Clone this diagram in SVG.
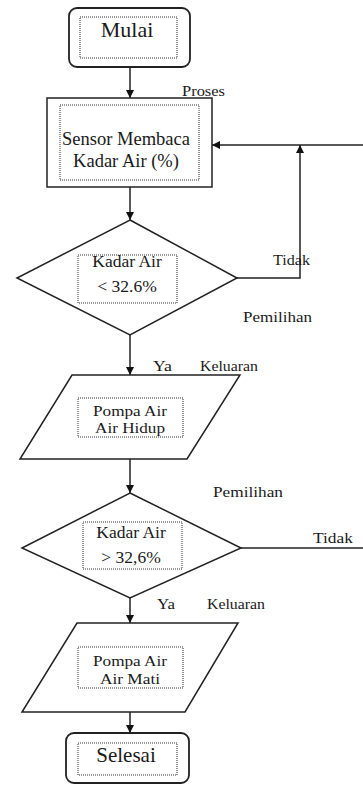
<svg xmlns="http://www.w3.org/2000/svg" width="363" height="785" viewBox="0 0 363 785">
<defs>
<style>
.box{fill:#fff;stroke:#222;stroke-width:1.5}
.term{fill:#fff;stroke:#222;stroke-width:1.8}
.dot{fill:none;stroke:#333;stroke-width:1;stroke-dasharray:1 1}
.t{font-family:"Liberation Serif","Times New Roman","DejaVu Serif",serif;fill:#1a1a1a;text-anchor:middle}
.lbl{font-family:"Liberation Serif","Times New Roman","DejaVu Serif",serif;fill:#1a1a1a;font-size:14px}
.c{fill:none;stroke:#222;stroke-width:1.5}
</style>
<marker id="ah" viewBox="0 0 10 10" refX="10" refY="5" markerWidth="8" markerHeight="8" markerUnits="userSpaceOnUse" orient="auto">
<path d="M0,0 L10,5 L0,10 z" fill="#111"/>
</marker>
</defs>
<rect width="363" height="785" fill="#fff"/>

<g id="connectors">
<line class="c" x1="130" y1="67" x2="130" y2="98" marker-end="url(#ah)"/>
<line class="c" x1="130" y1="187" x2="130" y2="220" marker-end="url(#ah)"/>
<polyline class="c" points="237,278 300,278 300,145" marker-end="url(#ah)"/>
<line class="c" x1="363" y1="145" x2="212" y2="145" marker-end="url(#ah)"/>
<line class="c" x1="130" y1="335" x2="130" y2="375" marker-end="url(#ah)"/>
<line class="c" x1="130" y1="459" x2="130" y2="493" marker-end="url(#ah)"/>
<line class="c" x1="241" y1="548" x2="363" y2="548"/>
<line class="c" x1="130" y1="598" x2="130" y2="623" marker-end="url(#ah)"/>
<line class="c" x1="130" y1="712" x2="130" y2="733" marker-end="url(#ah)"/>
</g>

<g id="mulai">
<rect class="term" x="69" y="8" width="121" height="59" rx="8"/>
<rect class="dot" x="80" y="17" width="97" height="41"/>
<text class="t" x="127" y="37" font-size="22">Mulai</text>
</g>

<g id="sensor">
<rect class="box" x="47" y="98" width="165" height="89"/>
<rect class="dot" x="60" y="105" width="139" height="75"/>
<text class="t" x="126" y="145" font-size="18.5">Sensor Membaca</text>
<text class="t" x="126" y="167" font-size="18.5">Kadar Air (%)</text>
</g>

<g id="decision1">
<polygon class="box" points="130,220 237,278 130,335 17,278"/>
<rect class="dot" x="78" y="255" width="99" height="48"/>
<text class="t" x="127" y="267" font-size="17.5">Kadar Air</text>
<text class="t" x="127" y="292" font-size="17.5">&lt; 32.6%</text>
</g>

<g id="output1">
<polygon class="box" points="72,375 240,375 187,459 20,459"/>
<rect class="dot" x="78" y="398" width="105" height="39"/>
<text class="t" x="130" y="416" font-size="15" textLength="74" lengthAdjust="spacingAndGlyphs">Pompa Air</text>
<text class="t" x="130" y="433" font-size="15" textLength="70" lengthAdjust="spacingAndGlyphs">Air Hidup</text>
</g>

<g id="decision2">
<polygon class="box" points="130,493 241,548 130,598 22,548"/>
<rect class="dot" x="83" y="522" width="99" height="47"/>
<text class="t" x="131" y="538" font-size="17.5">Kadar Air</text>
<text class="t" x="131" y="563" font-size="17.5">&gt; 32,6%</text>
</g>

<g id="output2">
<polygon class="box" points="77,623 238,623 185,712 22,712"/>
<rect class="dot" x="78" y="647" width="105" height="41"/>
<text class="t" x="130" y="666" font-size="15" textLength="74" lengthAdjust="spacingAndGlyphs">Pompa Air</text>
<text class="t" x="130" y="684" font-size="15" textLength="60" lengthAdjust="spacingAndGlyphs">Air Mati</text>
</g>

<g id="selesai">
<rect class="term" x="66" y="733" width="123" height="50" rx="8"/>
<rect class="dot" x="78" y="743" width="99" height="32"/>
<text class="t" x="126" y="762" font-size="21">Selesai</text>
</g>

<g id="labels">
<text class="lbl" x="182" y="96" textLength="43" lengthAdjust="spacingAndGlyphs">Proses</text>
<text class="lbl" x="273" y="265" textLength="37" lengthAdjust="spacingAndGlyphs">Tidak</text>
<text class="lbl" x="243" y="322" textLength="69" lengthAdjust="spacingAndGlyphs">Pemilihan</text>
<text class="lbl" x="153" y="371" textLength="19" lengthAdjust="spacingAndGlyphs">Ya</text>
<text class="lbl" x="200" y="371" textLength="58" lengthAdjust="spacingAndGlyphs">Keluaran</text>
<text class="lbl" x="213" y="497" textLength="70" lengthAdjust="spacingAndGlyphs">Pemilihan</text>
<text class="lbl" x="313" y="543" textLength="40" lengthAdjust="spacingAndGlyphs">Tidak</text>
<text class="lbl" x="157" y="609" textLength="18" lengthAdjust="spacingAndGlyphs">Ya</text>
<text class="lbl" x="207" y="609" textLength="58" lengthAdjust="spacingAndGlyphs">Keluaran</text>
</g>
</svg>
